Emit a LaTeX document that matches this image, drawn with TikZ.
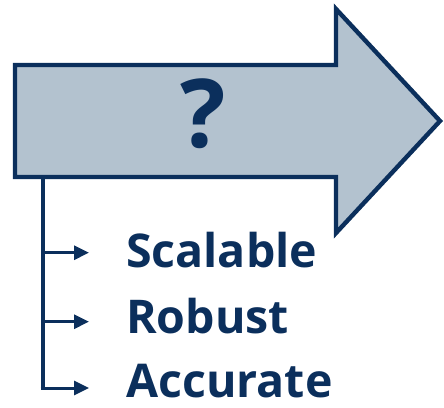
\documentclass[tikz,border=0pt]{standalone}
\usepackage{fontspec}
\setmainfont{Open Sans}
\usepackage{tikz}
\usetikzlibrary{positioning}
\usetikzlibrary{arrows.meta}
\usetikzlibrary{calc}

\definecolor{navy}{HTML}{0B2F5C}
\definecolor{steel}{HTML}{B3C2CF}

\begin{document}
\begin{tikzpicture}[x=1pt, y=1pt]
  \useasboundingbox (0,0) rectangle (444,407);

  \def\half{56}
  \def\headhalf{112}
  \tikzset{big arrow/.style={draw=navy, fill=steel, line width=4.4pt, line join=miter}}
  \tikzset{branch/.style={draw=navy, line width=3pt, -{Triangle[length=15pt,width=14pt]}}}
  \tikzset{trunk/.style={draw=navy, line width=4pt}}
  \tikzset{label node/.style={anchor=base west, inner sep=0pt, text=navy,
      font=\bfseries\fontsize{46.5}{56}\selectfont}}

  \coordinate (origin) at (15, 286);
  \coordinate (base) at (336, 286);
  \coordinate (tip) at (440, 286);

  % the big arrow
  \draw[big arrow] ($(origin)+(0,\half)$) -- ($(base)+(0,\half)$)
    -- ($(base)+(0,\headhalf)$) -- (tip) -- ($(base)+(0,-\headhalf)$)
    -- ($(base)+(0,-\half)$) -- ($(origin)+(0,-\half)$) -- cycle;

  \node[anchor=base, inner sep=0pt, text=navy,
    font=\bfseries\fontsize{95}{110}\selectfont] (quest) at (203, 259) {?};

  % the three labels
  \node[label node] (scalable) at (126, 139) {Scalable};
  \node[label node] (robust) at (126, 74) {Robust};
  \node[label node] (accurate) at (126, 10) {Accurate};

  % trunk and branches
  \coordinate (top) at (42.5, 230);
  \coordinate (b1) at (42.5, 154.3);
  \coordinate (b2) at (42.5, 85.3);
  \coordinate (b3) at (42.5, 19);
  \coordinate (e1) at (89, 154.3);
  \coordinate (e2) at (89, 85.3);
  \coordinate (e3) at (89, 19);

  \draw[trunk] (top) -- ($(b3)+(0,-1.5)$);
  \draw[branch] (b1) -- (e1);
  \draw[branch] (b2) -- (e2);
  \draw[branch] ($(b3)+(-2,0)$) -- (e3);
\end{tikzpicture}
\end{document}
